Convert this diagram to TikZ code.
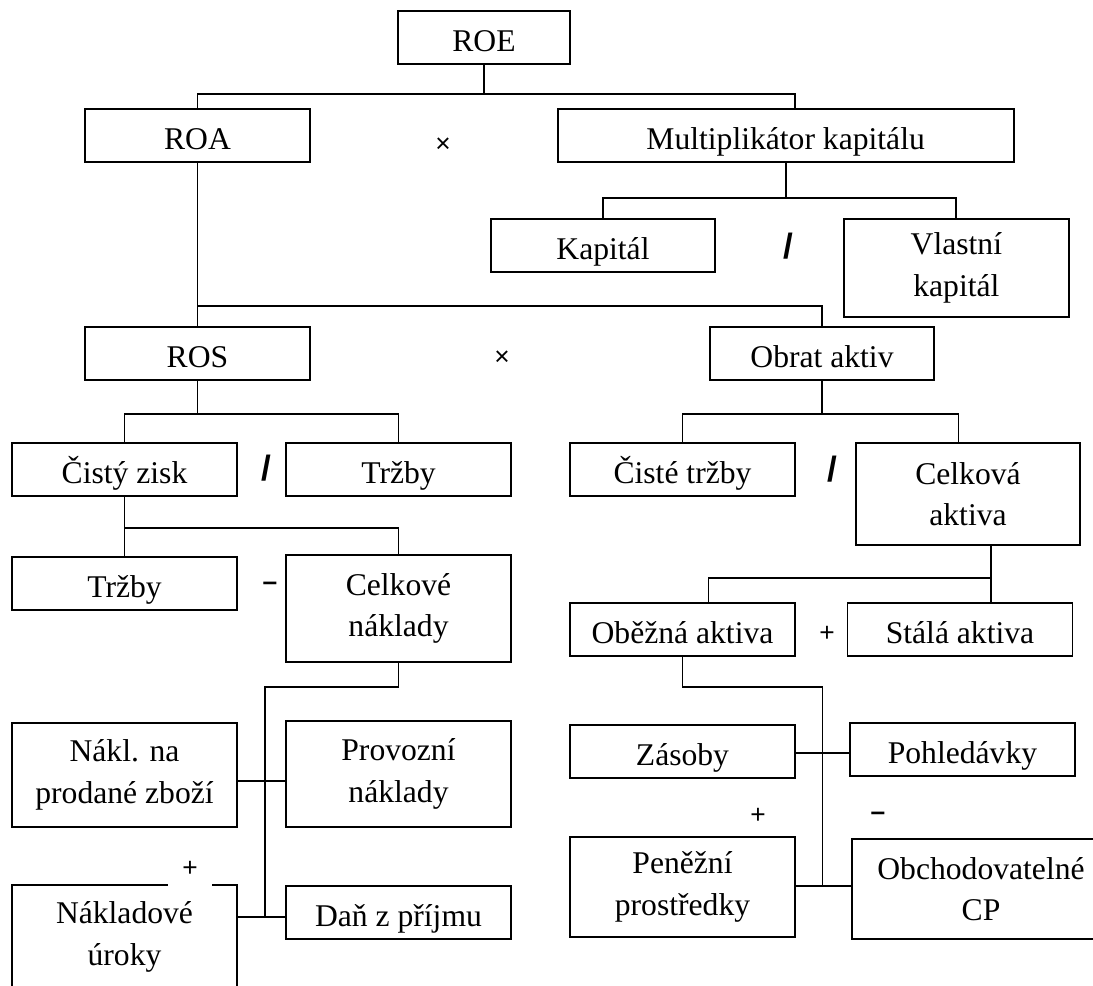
\documentclass[tikz,border=0pt]{standalone}
\usepackage{fontspec}
\setmainfont{Liberation Serif}
\newfontfamily\signfont{Liberation Sans}
\usepackage{tikz}
\tikzstyle{frame}=[draw, line width=1.1pt, inner sep=0pt, minimum width=4.5cm, minimum height=1.06cm, align=center, font=\fontsize{18}{23.6}\selectfont]
\tikzstyle{box}=[frame, text height=0.7cm, text depth=0.16cm]
\tikzstyle{tallbox}=[frame]
\tikzstyle{sign}=[inner sep=0pt, font=\signfont\fontsize{15}{18}\selectfont]
\tikzstyle{slash}=[inner sep=0pt, font=\signfont\bfseries\fontsize{20}{24}\selectfont]
\tikzstyle{link}=[line width=1.1pt]

\begin{document}
\begin{tikzpicture}[x=0.02cm, y=-0.02cm]
\clip (0,0) rectangle (1093,985);

\node[box, minimum width=3.44cm] (roe) at (484,37.5) {ROE};
\node[box] (roa) at (197.5,135.5) {ROA};
\node[box, minimum width=9.12cm] (mult) at (785.6,135.5) {Multiplikátor kapitálu};
\node[box, minimum width=4.48cm] (kap) at (603,245.5) {Kapitál};
\node[tallbox, minimum height=1.96cm] (vlk) at (956.4,268) {Vlastní\\kapitál};
\node[box] (ros) at (197.5,353.5) {ROS};
\node[box, minimum width=4.48cm] (obrat) at (822,353.5) {Obrat aktiv};
\node[box] (zisk) at (124.5,469.5) {Čistý zisk};
\node[box] (trzby) at (398.5,469.5) {Tržby};
\node[box] (cttrzby) at (682.5,469.5) {Čisté tržby};
\node[tallbox, minimum width=4.48cm, minimum height=2.04cm] (cakt) at (968,494) {Celková\\aktiva};
\node[box] (trzbyb) at (124.5,583.5) {Tržby};
\node[tallbox, minimum height=2.14cm] (cnakl) at (398.5,608.5) {Celkové\\náklady};
\node[box] (obeh) at (682.5,629.5) {Oběžná aktiva};
\node[box] (stal) at (960,629.5) {Stálá aktiva};
\node[tallbox, minimum height=2.08cm] (nprod) at (124.5,775) {Nákl. na\\prodané zboží};
\node[tallbox, minimum height=2.12cm] (prov) at (398.5,774) {Provozní\\náklady};
\node[box] (zas) at (682.5,751.5) {Zásoby};
\node[box] (pohl) at (962.5,749.5) {Pohledávky};
\node[tallbox, minimum height=2cm] (penez) at (682.5,887) {Peněžní\\prostředky};
\node[tallbox, minimum width=5.16cm, minimum height=2cm] (obch) at (981,889) {Obchodovatelné\\CP};
\node[box] (dan) at (398.5,912.5) {Daň z příjmu};
\node[tallbox, minimum height=2.08cm] (nurok) at (124.5,937) {Nákladové\\úroky};

\node[sign] (krat1) at (443,145) {×};
\node[slash] (del1) at (788,246) {/};
\node[sign] (krat2) at (502,358) {×};
\node[slash] (del2) at (266,468) {/};
\node[slash] (del3) at (832,469) {/};
\node[sign] (minus1) at (270,586) {\bfseries –};
\node[sign] (plus1) at (827,634) {+};
\node[sign] (plus2) at (758,816) {+};
\node[sign] (minus2) at (878,816) {\bfseries –};
\node[sign, fill=white, inner xsep=0.29cm, inner ysep=0.24cm] (plus3) at (190,869) {+};

\draw[link] (roe.south) -- ++(0,29) coordinate (j1);
\draw[link] (roa.north) |- (j1) -| ([xshift=0.18cm]mult.north);
\draw[link] (mult.south) -- ++(0,35) coordinate (j2);
\draw[link] (kap.north) |- (j2) -| (vlk.north);
\draw[link] (roa.south) -- (ros.north);
\draw[link] ([yshift=0.4cm]ros.north) -| (obrat.north);
\draw[link] (ros.south) -- ++(0,33) coordinate (j3);
\draw[link] (zisk.north) |- (j3) -| (trzby.north);
\draw[link] (obrat.south) -- ++(0,33) coordinate (j4);
\draw[link] (cttrzby.north) |- (j4) -| ([xshift=-0.19cm]cakt.north);
\draw[link] (zisk.south) -- ++(0,31) coordinate (j5);
\draw[link] (trzbyb.north) |- (j5) -| (cnakl.north);
\draw[link] ([xshift=0.46cm]cakt.south) -- ([xshift=0.62cm]stal.north);
\draw[link] ([xshift=0.52cm]obeh.north) -- ++(0,-24) -| ([xshift=0.46cm]cakt.south);

\coordinate (tl) at (265,687);
\coordinate (bl) at (265,917);
\draw[link] (cnakl.south) |- (tl) -- (bl);
\draw[link] ([yshift=-0.12cm]nprod.east) -- ([yshift=-0.12cm]nprod.east -| prov.west);
\draw[link] (bl -| nurok.east) -- (bl -| dan.west);

\coordinate (tr) at (822.5,687);
\coordinate (br) at (822.5,886);
\draw[link] (obeh.south) |- (tr) -- (br);
\draw[link] ([yshift=-0.03cm]zas.east) -- ([yshift=-0.03cm]zas.east -| pohl.west);
\draw[link] (br -| penez.east) -- (br -| obch.west);
\end{tikzpicture}
\end{document}
